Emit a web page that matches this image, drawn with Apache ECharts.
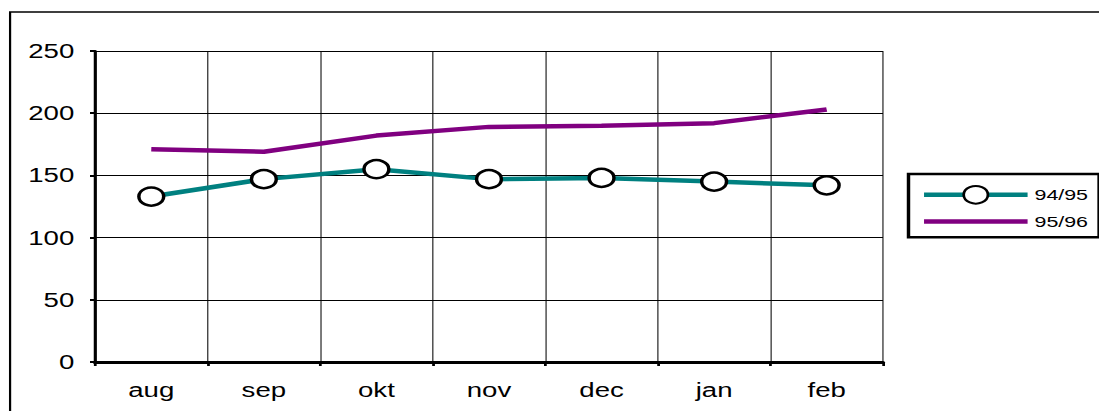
<!DOCTYPE html>
<html>
<head>
<meta charset="utf-8">
<script src="https://cdn.jsdelivr.net/npm/echarts@6/dist/echarts.min.js"></script>
<style>
html,body{margin:0;padding:0;background:#fff;overflow:hidden;width:1099px;height:411px;}
#wrap{position:absolute;left:0;top:0;width:796px;height:411px;transform:scaleX(1.3807);transform-origin:0 0;}
#chart{width:796px;height:411px;}
</style>
</head>
<body>
<div id="wrap"><div id="chart"></div></div>
<script>
const categories = ['aug', 'sep', 'okt', 'nov', 'dec', 'jan', 'feb'];
const values9495 = [133, 147, 155, 147, 148, 145, 142];
const values9596 = [171, 169, 182, 189, 190, 192, 203];
const yTicks = [0, 50, 100, 150, 200, 250];

const chart = echarts.init(document.getElementById('chart'), null, {renderer: 'svg'});
const font = 'Liberation Sans, Arial, sans-serif';
chart.setOption({
  animation: false,
  backgroundColor: '#fff',
  graphic: [{
    type: 'rect', silent: true,
    shape: {x: 7.3, y: 12, width: 820, height: 430},
    style: {fill: 'none', stroke: '#000', lineWidth: 1.6}
  }],
  grid: {left: 68.8, right: 156.5, top: 51, bottom: 49, containLabel: false},
  legend: {
    orient: 'vertical',
    left: 658, top: 174,
    itemWidth: 75, itemHeight: 22, itemGap: 8,
    padding: [11, 8, 7, 9],
    borderColor: '#000', borderWidth: 2.5,
    textStyle: {color: '#000', fontSize: 15.5, fontFamily: font},
    data: [
      {name: '94/95', lineStyle: {width: 4.5, color: '#008080'}},
      {name: '95/96', lineStyle: {width: 4.5, color: '#800080'}, itemStyle: {opacity: 0, color: 'transparent', borderWidth: 0}}
    ]
  },
  xAxis: {
    type: 'category',
    data: categories,
    boundaryGap: true,
    axisLine: {lineStyle: {color: '#000', width: 3}},
    axisTick: {show: true, length: 4, lineStyle: {color: '#000', width: 2}},
    axisLabel: {color: '#000', fontSize: 20, fontFamily: font, margin: 18},
    splitLine: {show: true, lineStyle: {color: '#000', width: 0.75}}
  },
  yAxis: {
    type: 'value',
    min: yTicks[0], max: yTicks[yTicks.length - 1], interval: 50,
    axisLine: {show: true, lineStyle: {color: '#000', width: 2.2}},
    axisTick: {show: true, length: 3.6, lineStyle: {color: '#000', width: 2}},
    axisLabel: {color: '#000', fontSize: 20, fontFamily: font, margin: 15},
    splitLine: {show: true, lineStyle: {color: '#000', width: 1}}
  },
  series: [{
    name: '94/95',
    type: 'line',
    data: values9495,
    symbol: 'circle',
    symbolSize: 18,
    lineStyle: {color: '#008080', width: 4.5},
    itemStyle: {color: '#fff', borderColor: '#000', borderWidth: 2.5},
    z: 3
  }, {
    name: '95/96',
    type: 'line',
    data: values9596,
    symbol: 'none',
    lineStyle: {color: '#800080', width: 4.5},
    itemStyle: {color: '#800080'},
    z: 2
  }]
});
</script>
</body>
</html>
